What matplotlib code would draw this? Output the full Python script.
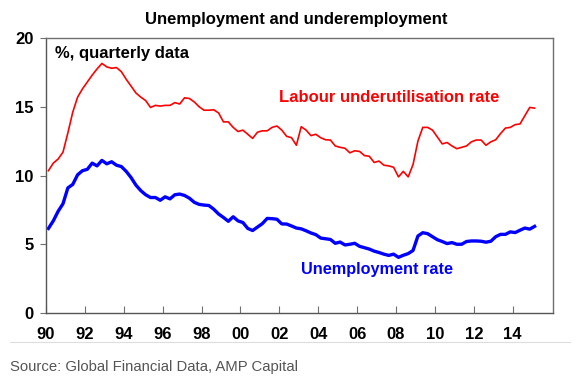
import matplotlib
matplotlib.use('Agg')
import matplotlib.pyplot as plt
import numpy as np

plt.rcParams['font.family'] = ['Liberation Sans', 'DejaVu Sans']

# donnees trimestrielles 1990T1 -> 2015T1 (%)
sous_utilisation = [10.35, 10.9, 11.2, 11.7, 13.1, 14.6, 15.7, 16.3, 16.8, 17.3, 17.75, 18.15,
                    17.9, 17.8, 17.85, 17.55, 17.0, 16.5, 16.0, 15.7, 15.45, 14.95, 15.1, 15.05,
                    15.1, 15.1, 15.3, 15.2, 15.65, 15.6, 15.35, 15.0, 14.75, 14.75, 14.78, 14.55,
                    13.9, 13.9, 13.5, 13.2, 13.3, 13.0, 12.7, 13.15, 13.25, 13.25, 13.5, 13.6,
                    13.3, 12.85, 12.75, 12.2, 13.55, 13.3, 12.9, 13.0, 12.75, 12.6, 12.58, 12.15,
                    12.05, 11.98, 11.65, 11.8, 11.75, 11.45, 11.4, 10.95, 11.05, 10.75, 10.7, 10.6,
                    9.9, 10.3, 9.9, 10.8, 12.5, 13.5, 13.5, 13.3, 12.8, 12.3, 12.4, 12.15,
                    11.95, 12.05, 12.15, 12.45, 12.58, 12.58, 12.2, 12.45, 12.6, 13.05, 13.45, 13.5,
                    13.7, 13.75, 14.35, 14.95, 14.9]
chomage = [6.15, 6.7, 7.4, 7.95, 9.1, 9.35, 10.05, 10.35, 10.45, 10.9, 10.7, 11.1,
           10.85, 11.0, 10.75, 10.65, 10.3, 9.85, 9.3, 8.9, 8.6, 8.4, 8.4, 8.2,
           8.45, 8.3, 8.6, 8.65, 8.55, 8.35, 8.05, 7.9, 7.85, 7.82, 7.55, 7.2,
           6.95, 6.67, 7.0, 6.7, 6.58, 6.15, 6.0, 6.25, 6.5, 6.88, 6.86, 6.82,
           6.48, 6.47, 6.33, 6.18, 6.12, 5.98, 5.82, 5.7, 5.45, 5.4, 5.35, 5.07,
           5.16, 4.95, 5.0, 5.07, 4.85, 4.75, 4.65, 4.5, 4.4, 4.28, 4.19, 4.28,
           4.05, 4.2, 4.32, 4.55, 5.6, 5.84, 5.77, 5.55, 5.33, 5.2, 5.05, 5.12,
           5.0, 5.0, 5.2, 5.24, 5.24, 5.22, 5.15, 5.22, 5.55, 5.72, 5.72, 5.9,
           5.85, 6.02, 6.18, 6.1, 6.3]
annees_ticks = [1990, 1992, 1994, 1996, 1998, 2000, 2002, 2004, 2006, 2008, 2010, 2012, 2014]
labels_ticks = ['90', '92', '94', '96', '98', '00', '02', '04', '06', '08', '10', '12', '14']

t = 1990.125 + 0.25*np.arange(len(chomage))

fig = plt.figure(figsize=(5.8, 3.82), dpi=100)
ax = fig.add_axes([0.0793, 0.1806, 0.8741, 0.7199])

ax.plot(t, sous_utilisation, color='#ff0000', lw=1.2)
ax.plot(t, chomage, color='#0000ff', lw=2.4)

ax.set_xlim(1990, 2016.07)
ax.set_ylim(0, 20)
ax.set_yticks([0, 5, 10, 15, 20])
ax.set_xticks(annees_ticks)
ax.set_xticklabels(labels_ticks)
for s in ax.spines.values():
    s.set_color('#707070')
    s.set_linewidth(1.0)
ax.spines['left'].set_color('#555555')
ax.spines['bottom'].set_color('#555555')
ax.tick_params(axis='x', direction='in', length=5, color='#707070', pad=10)
ax.tick_params(axis='y', direction='out', length=4, color='#707070', pad=5)
for lab in ax.get_xticklabels() + ax.get_yticklabels():
    lab.set_fontsize(12)
    lab.set_fontweight('bold')

ax.text(0.017, 0.945, '%, quarterly data', transform=ax.transAxes, fontsize=12,
        fontweight='bold', va='center', ha='left')
ax.text(2002.0, 15.7, 'Labour underutilisation rate', color='#ff0000', fontsize=12,
        fontweight='bold', va='center', ha='left')
ax.text(2003.1, 3.2, 'Unemployment rate', color='#0000ff', fontsize=11.7,
        fontweight='bold', va='center', ha='left')

fig.text(0.511, 0.95, 'Unemployment and underemployment', fontsize=12, fontweight='bold',
         ha='center', va='center')
fig.add_artist(plt.Line2D([0.017, 0.983], [0.105, 0.105], color='#dddddd', lw=0.8))
fig.text(0.017, 0.039, 'Source: Global Financial Data, AMP Capital', fontsize=10.7,
         color='#555555', ha='left', va='center')

plt.savefig('out.png', dpi=100)
